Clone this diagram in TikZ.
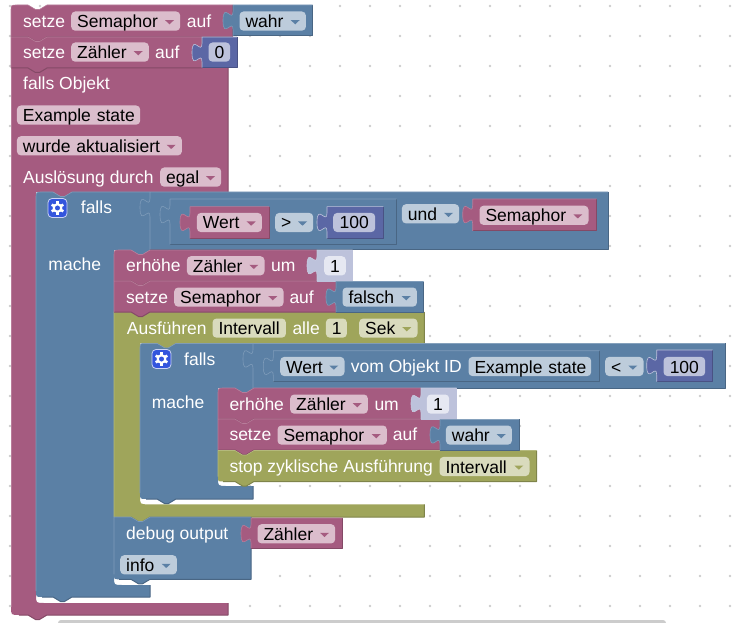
\documentclass[tikz,border=0pt]{standalone}
\usepackage{fontspec}
\setmainfont{Liberation Sans}
\definecolor{mag}{HTML}{A55B80}\definecolor{magdk}{HTML}{844966}\definecolor{maglt}{HTML}{B87C9A}\definecolor{magfd}{HTML}{DBBDCC}
\definecolor{blu}{HTML}{5B80A5}\definecolor{bludk}{HTML}{496684}\definecolor{blult}{HTML}{7E9BB9}\definecolor{blufd}{HTML}{BDCCDB}
\definecolor{vio}{HTML}{5B67A5}\definecolor{viodk}{HTML}{495284}\definecolor{violt}{HTML}{BDC2DB}\definecolor{viofd}{HTML}{BDC2DB}
\definecolor{oli}{HTML}{9FA55B}\definecolor{olidk}{HTML}{7F844A}\definecolor{olilt}{HTML}{B4B97C}\definecolor{olifd}{HTML}{D9DBBD}
\definecolor{sha}{HTML}{BDC2DB}\definecolor{shadk}{HTML}{BDC2DB}\definecolor{shalt}{HTML}{C8CCE1}\definecolor{shafd}{HTML}{E6E8F2}
\definecolor{gearblue}{HTML}{3355DD}
\tikzset{
	lbl/.style={text=white,anchor=base west,inner sep=0,yshift=-0.7pt},
	fieldbox/.style={anchor=north west,inner xsep=6,inner ysep=0,text height=16.1,text depth=3.1,rounded corners=4,text=black,align=left},
	numbox/.style={fieldbox,align=center},
	blockline/.style={line width=1,line join=round},
	hiline/.style={line width=0.6,line join=round},
	gearbox/.style={fill=gearblue,draw=white!75!gearblue,line width=0.8,rounded corners=4,minimum size=19,inner sep=0}
}
\def\notch(#1,#2){-- ({#1+17},#2) -- ({#1+24.5},{#2+4.5}) -- ({#1+28.5},{#2+4.5}) -- ({#1+36},#2)}
\def\tabdown(#1,#2){-- ({#1+36},#2) -- ({#1+28.5},{#2+4.5}) -- ({#1+24.5},{#2+4.5}) -- ({#1+17},#2)}
\def\tableft(#1,#2){-- (#1,{#2+25}) .. controls (#1,{#2+12.5}) and ({#1-10},{#2+35}) .. ({#1-10},{#2+15.6}) .. controls ({#1-10},{#2-3.75}) and (#1,{#2+18.75}) .. (#1,{#2+6.25})}
\def\valblock[#1](#2,#3:#4,#5){\fill[#1] (#2,#3) -- (#4,#3) -- (#4,#5) -- (#2,#5) \tableft(#2,#3) -- cycle;
	\draw[#1dk,blockline] (#4,#3) -- (#4,#5) -- (#2,#5);
	\draw[#1lt,hiline] (#2,#5) \tableft(#2,#3) -- (#2,#3) -- (#4,#3);}
\def\stmtblock[#1](#2,#3:#4,#5)(#6:#7){\fill[#1] (#2,{#3+#6}) .. controls (#2,#3) .. ({#2+#6},#3) \notch(#2,#3) -- (#4,#3) -- (#4,#5) \tabdown(#2,#5) -- ({#2+#7},#5) .. controls (#2,#5) .. (#2,{#5-#7}) -- cycle;
	\draw[#1dk,blockline] (#4,#3) -- (#4,#5) \tabdown(#2,#5) -- ({#2+#7},#5);
	\draw[#1lt,hiline] (#2,{#5-#7}) -- (#2,{#3+#6}) .. controls (#2,#3) .. ({#2+#6},#3) \notch(#2,#3) -- (#4,#3);}
\def\field[#1](#2)(#3,#4:#5)#6{\pgfmathsetmacro\fldw{#5-#3-12}\node[fieldbox,#1,text width=\fldw pt] (#2) at (#3,#4) {\mbox{#6}};}
\def\dropfield[#1](#2)(#3,#4:#5)#6{\field[fill=#1fd](#2)(#3,#4:#5){#6}\fill[#1,line join=round] ({#5-15},{#4+8.8}) -- ({#5-6},{#4+8.8}) -- ({#5-10.5},{#4+13}) -- cycle;}
\def\gearicon(#1){\foreach \a in {30,90,...,330}{\draw[white,line width=2.6] (#1) ++(\a:3.5) -- ++(\a:3.2);}
	\fill[white] (#1) circle (4.9);\fill[gearblue] (#1) circle (2.5);}

\begin{document}
\begin{tikzpicture}[x=1pt,y=-1pt,every node/.style={font=\fontsize{17.5}{20}\selectfont}]
	%%%%% START %%%%%
	\useasboundingbox (0,0) rectangle (737,623);
	
	\foreach \gx in {10,40,...,730}
		\foreach \gy in {6,36,...,606}
			\fill[black!20] (\gx,\gy) circle (1.3);
	\fill[black!20,rounded corners=3] (58,620) rectangle (666,632);
	
	%%%%% big falls Objekt block
	\fill[mag] (11,68) \notch(11,68) -- (228,68) -- (228,192) \tabdown(36,192) -- (36,192) -- (36,595) .. controls (36,603) .. (44,603) -- (228,603) -- (228,615) \tabdown(11,615) -- (19,615) .. controls (11,615) .. (11,607) -- cycle;
	\draw[magdk,blockline] (228,68) -- (228,192) (228,603) -- (228,615) \tabdown(11,615) -- (19,615);
	\draw[maglt,hiline] (11,607) -- (11,68);
	\stmtblock[mag](11,5:232.7,37)(6:0)
	\stmtblock[mag](11,37:202,68)(0:0)
	
	\valblock[blu](233,5:312.7,36)
	\valblock[vio](202,37:237,67.7)
	
	\node[lbl] (setzeOne) at (23,26.7) {setze};
	\dropfield[mag](semaphorOne)(71,11.3:180){Semaphor}
	\node[lbl] (aufOne) at (186.7,26.7) {auf};
	\dropfield[blu](wahrOne)(239.3,11.3:305.7){wahr}
	
	\node[lbl] (setzeTwo) at (23,57.7) {setze};
	\dropfield[mag](zaehlerOne)(71,42.3:148.7){Zähler}
	\node[lbl] (aufTwo) at (155,57.7) {auf};
	\field[numbox,fill=viofd](nullOne)(208.3,42.3:230){0}
	
	\node[lbl] (fallsObjekt) at (23,89) {falls Objekt};
	\field[fill=magfd](stateOne)(16.7,105.3:140){Example state}
	\dropfield[mag](wurde)(16.7,136:181.7){wurde aktualisiert}
	\node[lbl] (ausloesung) at (23,182.7) {Auslösung durch};
	\dropfield[mag](egal)(160,167.3:221){egal}
	
	%%%%% outer falls
	\fill[blu] (36,198) .. controls (36,192) .. (42,192) \notch(36,192) -- (150,192) -- (150,250) \tabdown(114,250) -- (114,250) -- (114,577) .. controls (114,585) .. (122,585) -- (150,585) -- (150,597) \tabdown(36,597) -- (42,597) .. controls (36,597) .. (36,591) -- cycle;
	\draw[bludk,blockline] (150,585) -- (150,597) \tabdown(36,597) -- (42,597);
	\draw[blult,hiline] (36,591) -- (36,198) .. controls (36,192) .. (42,192) \notch(36,192) -- (150,192);
	
	\valblock[blu](150,192:608,249.3)
	\valblock[blu](170,199:396.7,244.3)
	\valblock[mag](190,206.7:269,238.3)
	\valblock[vio](327,206.7:383.3,238.3)
	\valblock[mag](472.7,199:596.7,231)
	
	\node[gearbox] (gearOuter) at (57.5,208) {};
	\gearicon(gearOuter)
	\node[lbl] (fallsOuter) at (80.7,213) {falls};
	\node[lbl] (macheOuter) at (48.3,269.3) {mache};
	\dropfield[mag](wertOne)(196.7,212.7:261.7){Wert}
	\dropfield[blu](groesser)(275,212.7:313){>}
	\field[numbox,fill=viofd](hundertOne)(333,212.7:375){100}
	\dropfield[blu](und)(401.7,204:459){und}
	\dropfield[mag](semaphorTwo)(479.3,205.5:588.3){Semaphor}
	
	%%%%% olive Ausfuehren block
	\fill[oli] (114,312) \notch(114,312) -- (424.3,312) -- (424.3,343.3) \tabdown(140,343.3) -- (140,343.3) -- (140,496) .. controls (140,504.3) .. (148,504.3) -- (424.3,504.3) -- (424.3,517) \tabdown(114,517) -- (114,517) -- cycle;
	\draw[olidk,blockline] (424.3,312) -- (424.3,343.3) (424.3,504.3) -- (424.3,517) \tabdown(114,517);
	\draw[olilt,hiline] (114,517) -- (114,312) \notch(114,312) -- (424.3,312);
	
	\stmtblock[mag](114,250:317,281)(6:0)
	\stmtblock[mag](114,281:336,312)(0:0)
	\valblock[sha](317,250:352.7,281)
	\valblock[blu](336,281.5:423.5,312)
	
	\node[lbl] (erhoeheOne) at (126,271) {erhöhe};
	\dropfield[mag](zaehlerTwo)(186.7,256:264.3){Zähler}
	\node[lbl] (umOne) at (271,271) {um};
	\field[numbox,fill=shafd](einsOne)(324,256:345.7){1}
	
	\node[lbl] (setzeThree) at (126,302.3) {setze};
	\dropfield[mag](semaphorThree)(174,287.3:283.3){Semaphor}
	\node[lbl] (aufThree) at (289.3,302.3) {auf};
	\dropfield[blu](falsch)(342.3,287.3:416.7){falsch}
	
	\node[lbl] (ausfuehren) at (126.7,333.3) {Ausführen};
	\field[fill=olifd](intervallOne)(212.3,318.3:285.7){Intervall}
	\node[lbl] (alle) at (292.3,333.3) {alle};
	\field[numbox,fill=olifd](einsTwo)(325.7,318.3:346.7){1}
	\dropfield[oli](sek)(359,318.3:417.3){Sek}
	
	%%%%% inner falls
	\fill[blu] (140,349) .. controls (140,343.3) .. (146,343.3) \notch(140,343.3) -- (253,343.3) -- (253,388) \tabdown(218,388) -- (218,388) -- (218,478) .. controls (218,486) .. (226,486) -- (253,486) -- (253,499) \tabdown(140,499) -- (146,499) .. controls (140,499) .. (140,493) -- cycle;
	\draw[bludk,blockline] (253,486) -- (253,499) \tabdown(140,499) -- (146,499);
	\draw[blult,hiline] (140,493) -- (140,349) .. controls (140,343.3) .. (146,343.3) \notch(140,343.3) -- (253,343.3);
	
	\valblock[blu](253,343.3:725,388)
	\valblock[blu](273.3,350.7:599.3,381.7)
	\valblock[vio](656.7,350:712.7,381.7)
	
	\node[gearbox] (gearInner) at (161.5,359) {};
	\gearicon(gearInner)
	\node[lbl] (fallsInner) at (184,364.3) {falls};
	\node[lbl] (macheInner) at (151.7,407.3) {mache};
	\dropfield[blu](wertTwo)(280,356.7:344.3){Wert}
	\node[lbl] (vomObjekt) at (350.7,371.7) {vom Objekt ID};
	\field[fill=blufd](stateTwo)(468.3,356.7:591){Example state}
	\dropfield[blu](kleiner)(605,356.7:643.3){<}
	\field[numbox,fill=viofd](hundertTwo)(663.3,356.7:705){100}
	
	\stmtblock[mag](218,388:421,419)(6:0)
	\stmtblock[mag](218,419:440,450)(0:0)
	\stmtblock[oli](218,450.5:536.7,481.5)(0:5)
	\valblock[sha](421,388:456.5,419)
	\valblock[blu](440,419.3:519,450)
	
	\node[lbl] (erhoeheTwo) at (229.3,409.3) {erhöhe};
	\dropfield[mag](zaehlerThree)(290,394.3:367.7){Zähler}
	\node[lbl] (umTwo) at (374.3,409.3) {um};
	\field[numbox,fill=shafd](einsThree)(426.7,394.3:449){1}
	
	\node[lbl] (setzeFour) at (229.3,440) {setze};
	\dropfield[mag](semaphorFour)(277.3,425.3:386.7){Semaphor}
	\node[lbl] (aufFour) at (392.7,440) {auf};
	\dropfield[blu](wahrTwo)(445.7,425.3:511.7){wahr}
	
	\node[lbl] (stopZyklisch) at (229.3,471.7) {stop zyklische Ausführung};
	\dropfield[oli](intervallTwo)(439.3,456.7:529.3){Intervall}
	
	%%%%% debug output
	\stmtblock[blu](114,517:251,579.3)(0:5)
	\valblock[mag](251,518:342.5,548)
	
	\node[lbl] (debugOutput) at (126,539) {debug output};
	\dropfield[mag](zaehlerFour)(257.3,524:335){Zähler}
	\dropfield[blu](info)(120,555:176.7){info}
	
	%%%%% END %%%%%
\end{tikzpicture}
\end{document}
